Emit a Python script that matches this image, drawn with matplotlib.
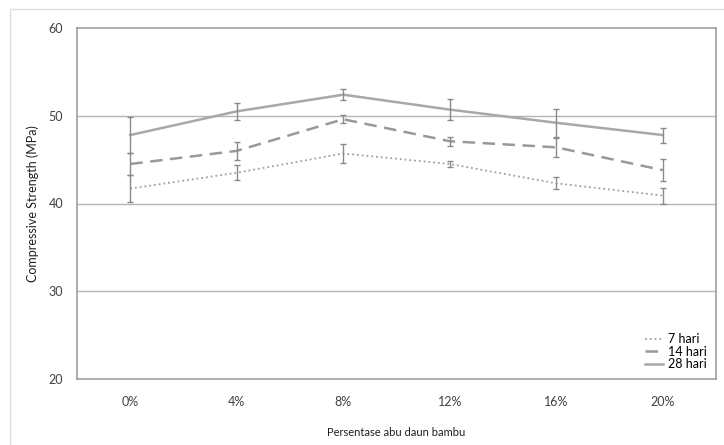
import matplotlib

matplotlib.use("Agg")
import matplotlib.pyplot as plt
from matplotlib.patches import Rectangle

plt.rcParams["font.family"] = ["Lato", "DejaVu Sans"]

# Compressive strength by bamboo leaf ash content, per curing age
categories = ["0%", "4%", "8%", "12%", "16%", "20%"]
mean_7 = [41.7, 43.5, 45.7, 44.5, 42.3, 40.9]
err_7 = [1.5, 0.85, 1.05, 0.35, 0.7, 0.9]
mean_14 = [44.5, 46.0, 49.6, 47.1, 46.4, 43.8]
err_14 = [1.3, 1.0, 0.45, 0.5, 1.1, 1.25]
mean_28 = [47.8, 50.5, 52.4, 50.7, 49.2, 47.8]
err_28 = [2.1, 1.0, 0.6, 1.2, 1.6, 0.85]

fig = plt.figure(figsize=(7.24, 4.45), dpi=100)
# thin frame round the whole chart area
fig.patches.append(Rectangle((10 / 724, -0.01), 0.99, 1 - 9 / 445 + 0.01,
                             transform=fig.transFigure, fill=False,
                             edgecolor="#dedede", linewidth=1))
ax = fig.add_axes([77 / 724, 1 - 379 / 445, 639 / 724, 351 / 445])

x = list(range(len(categories)))
series = [
    (mean_7, err_7, ":", "7 hari", "#a0a0a0", 1.3),
    (mean_14, err_14, (0, (5, 3)), "14 hari", "#999999", 1.8),
    (mean_28, err_28, "-", "28 hari", "#a8a8a8", 1.8),
]
for mean, err, ls, label, color, lw in series:
    ax.plot(x, mean, linestyle=ls, color=color, linewidth=lw, label=label, zorder=3)
    ax.errorbar(x, mean, yerr=err, fmt="none", ecolor="#8a8a8a",
                elinewidth=1, capsize=2.5, capthick=1, zorder=4)

ax.set_xlim(-0.5, 5.5)
ax.set_ylim(20, 60)
ax.set_yticks([20, 30, 40, 50, 60])
ax.set_xticks(x)
ax.set_xticklabels(categories)
ax.tick_params(length=0, labelsize=9, colors="#404040", pad=12)
ax.tick_params(axis="y", pad=10)
for y in (30, 40, 50):
    ax.axhline(y, color="#b5b5b5", linewidth=1, zorder=1)
for side in ax.spines.values():
    side.set_color("#a0a0a0")
    side.set_linewidth(1.2)

ax.set_xlabel("Persentase abu daun bambu", fontsize=8, color="#202020", labelpad=14)
ax.set_ylabel("Compressive Strength (MPa)", fontsize=9, color="#202020", labelpad=7)

ax.legend(loc="lower right", frameon=False, fontsize=9, handlelength=1.5,
          handletextpad=0.4, labelspacing=0.05, borderaxespad=0.3)

fig.savefig("out.png", dpi=100)
